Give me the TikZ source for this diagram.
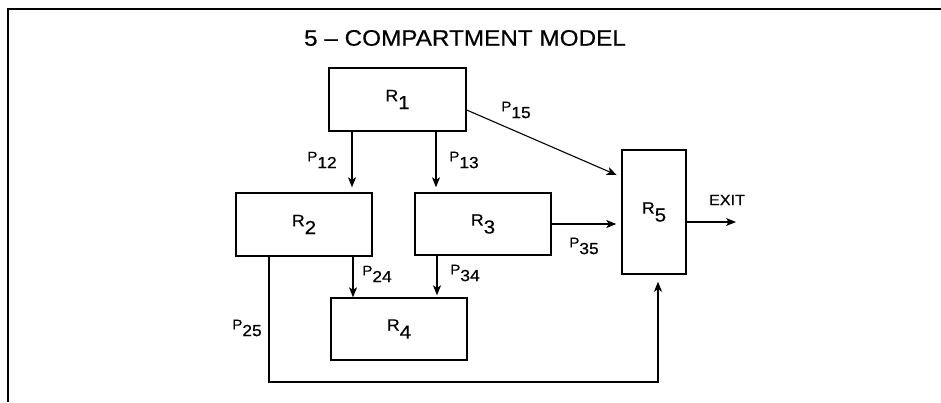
\documentclass[tikz,border=0pt]{standalone}
\usepackage{fontspec}
\setmainfont{Liberation Sans}[FakeStretch=1.08, FakeBold=0.5]
\usetikzlibrary{arrows.meta}
\newcommand{\idx}[2]{#1\raisebox{-0.48em}{\scalebox{1.15}{#2}}}
\begin{document}
\begin{tikzpicture}[>={Stealth[length=10pt, width=8pt, inset=2.5pt]}, x = 1pt, y = -1pt]
    \useasboundingbox (0, 0) rectangle (941, 402);

    \tikzstyle{comp} = [rectangle, draw, line width = 1.4pt, inner sep = 0pt, font = \fontsize{16.5}{18}\selectfont]
    \tikzstyle{rate} = [inner sep = 0pt, font = \fontsize{14}{16}\selectfont]
    \tikzstyle{flow} = [->, line width = 1.1pt]

    \draw[line width = 2.5pt] (8, 402) -- (8, 9) -- (941, 9);

    \node[font = \fontsize{22.5}{25}\selectfont] (title) at (465, 38) {5 -- COMPARTMENT MODEL};

    \node[comp, minimum width = 137pt, minimum height = 63pt] (R1) at (397.5, 99.5) {\idx{R}{1}};
    \node[comp, minimum width = 136pt, minimum height = 63pt] (R2) at (304, 224.5) {\idx{R}{2}};
    \node[comp, minimum width = 136pt, minimum height = 62pt] (R3) at (483, 224) {\idx{R}{3}};
    \node[comp, minimum width = 136pt, minimum height = 62pt] (R4) at (399, 329) {\idx{R}{4}};
    \node[comp, minimum width = 64pt, minimum height = 124pt] (R5) at (654, 212) {\idx{R}{5}};

    \coordinate (out) at (736, 222);
    \coordinate (turn) at (658, 382);

    \draw[flow, shorten > = 5pt] ([xshift = -45.5pt]R1.south) -- ([xshift = 48pt]R2.north);
    \draw[flow, shorten > = 5pt] ([xshift = 38.5pt]R1.south) -- ([xshift = -47pt]R3.north);
    \draw[flow, shorten > = 5pt] ([yshift = -10.5pt]R1.east) -- ([yshift = 35pt]R5.west);
    \draw[flow, shorten > = 5pt] (R3.east) -- (R3.east -| R5.west);
    \draw[flow] ([xshift = 49pt]R2.south) -- ([xshift = -46pt]R4.north);
    \draw[flow, shorten > = 2pt] ([xshift = -46pt]R3.south) -- ([xshift = 38pt]R4.north);
    \draw[flow, shorten > = 7pt] ([xshift = -35pt]R2.south) |- (turn) -- ([xshift = 4pt]R5.south);
    \draw[flow] ([yshift = -10pt]R5.east) -- (out);

    \node[rate] (p12) at (322, 160) {\idx{P}{12}};
    \node[rate] (p13) at (464, 160) {\idx{P}{13}};
    \node[rate] (p15) at (516, 110) {\idx{P}{15}};
    \node[rate] (p24) at (377, 274) {\idx{P}{24}};
    \node[rate] (p34) at (465, 273) {\idx{P}{34}};
    \node[rate] (p35) at (584, 246) {\idx{P}{35}};
    \node[rate] (p25) at (247, 328) {\idx{P}{25}};
    \node[rate, font = \fontsize{15}{17}\selectfont] (exit) at (727, 200) {EXIT};
\end{tikzpicture}
\end{document}
